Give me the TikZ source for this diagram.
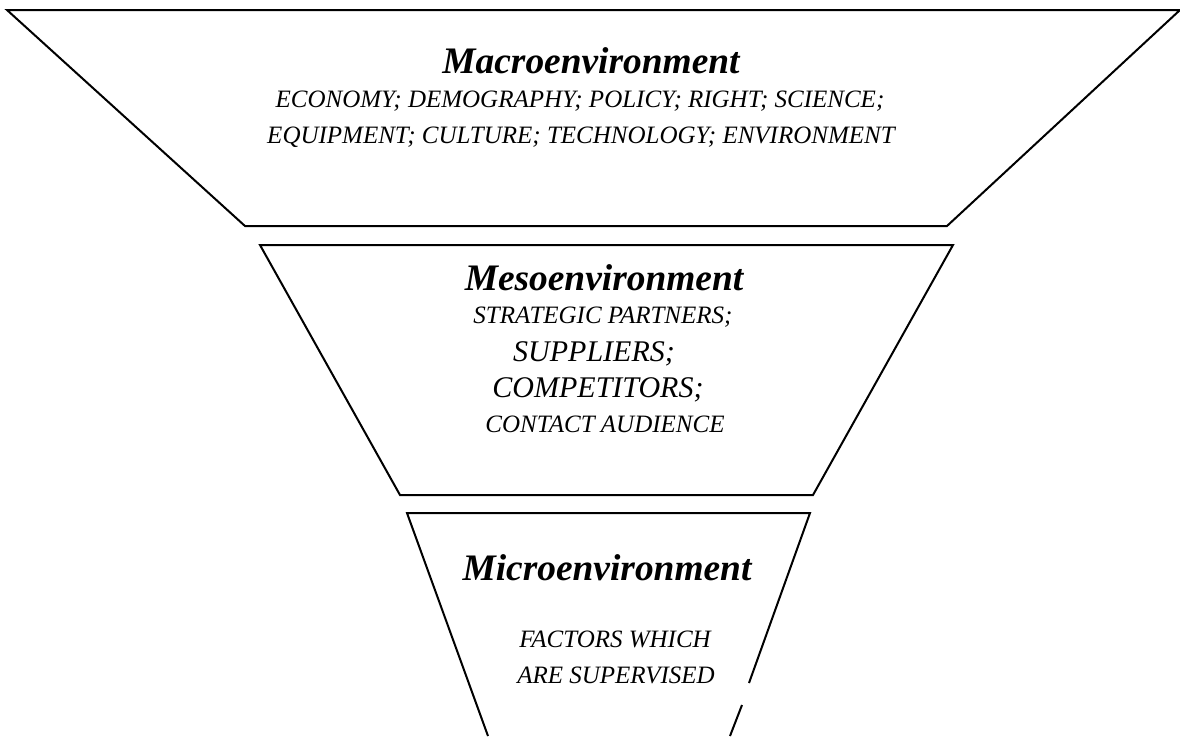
\documentclass[tikz,border=0pt]{standalone}
\usepackage{fontspec}
\setmainfont{Liberation Serif}
\begin{document}
\begin{tikzpicture}
      [
      x=0.5pt, y=-0.5pt,
      level/.style={draw,line width=1pt,line join=miter},
      heading/.style={anchor=base,inner sep=0pt,font=\fontsize{18.7}{22}\selectfont\bfseries\itshape},
      factor/.style={anchor=base,inner sep=0pt,font=\fontsize{12.5}{15}\selectfont\itshape},
      bigfactor/.style={anchor=base,inner sep=0pt,font=\fontsize{15}{18}\selectfont\itshape}
      ]
      \useasboundingbox (0,0) rectangle (1180,736);
      % funnel levels
      \draw [level] (7,10) -- (1180,10) -- (947,226) -- (245,226) -- cycle;
      \draw [level] (260,245) -- (953,245) -- (813,495) -- (400,495) -- cycle;
      \draw [level] (749,683) -- (810,513) -- (407,513) -- (488,736);
      \draw [level] (742,705) -- (730,736);
      % macro
      \node (macro) at (591,73) [heading] {Macroenvironment};
      \node (macro1) at (580,107) [factor] {ECONOMY; DEMOGRAPHY; POLICY; RIGHT; SCIENCE;};
      \node (macro2) at (581,143) [factor] {EQUIPMENT; CULTURE; TECHNOLOGY; ENVIRONMENT};
      % meso
      \node (meso) at (604,290) [heading] {Mesoenvironment};
      \node (meso1) at (603,323) [factor] {STRATEGIC PARTNERS;};
      \node (meso2) at (594,361) [bigfactor] {SUPPLIERS;};
      \node (meso3) at (598,397) [bigfactor] {COMPETITORS;};
      \node (meso4) at (605,432) [factor] {CONTACT AUDIENCE};
      % micro
      \node (micro) at (607,580) [heading] {Microenvironment};
      \node (micro1) at (615,647) [factor] {FACTORS WHICH};
      \node (micro2) at (616,683) [factor] {ARE SUPERVISED};
\end{tikzpicture}
\end{document}
